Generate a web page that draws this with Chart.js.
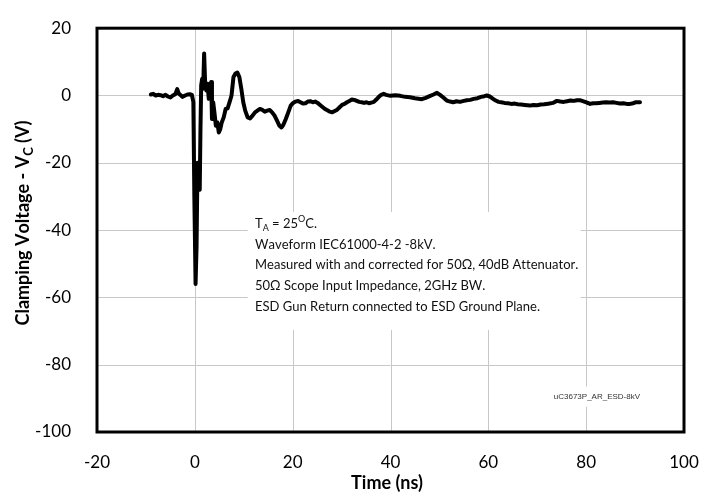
<!DOCTYPE html>
<html>
<head>
<meta charset="utf-8">
<script src="https://cdn.jsdelivr.net/npm/chart.js@4.4.1/dist/chart.umd.min.js"></script>
<style>
  html, body { margin: 0; padding: 0; background: #fff; }
  #wrap { width: 717px; height: 496px; }
</style>
</head>
<body>
<div id="wrap"><canvas id="esdChart" width="717" height="496"></canvas></div>
<script>
// Waveform (time in ns, voltage in V)
const timeNs = [
  -9, -8.5, -8, -7.5, -7, -6.5, -6, -5.5, -5, -4.5, -4, -3.6, -3.3, -3, -2.5, -2, -1.5, -1, -0.6, -0.3,
  -0.1, 0.15, 0.35, 0.55, 0.75, 1.0, 1.15, 1.3, 1.5, 1.7, 1.9, 2.1, 2.35, 2.6, 2.85, 3.1, 3.35, 3.5, 3.75, 4.0,
  4.3, 4.6, 4.9, 5.2, 5.5, 5.9, 6.3, 6.7, 7.1, 7.5, 7.9, 8.3, 8.7, 9.1, 9.5, 9.9, 10.3, 10.8, 11.3, 11.8,
  12.3, 12.8, 13.3, 13.8, 14.3, 14.8, 15.3, 15.8, 16.3, 16.8, 17.3, 17.7, 18.1, 18.6, 19.1, 19.6, 20.1, 20.6, 21.1, 21.6,
  22.1, 22.6, 23.1, 23.6, 24.1, 24.6, 25.1, 25.6, 26.1, 26.6, 27.1, 27.6, 28.1, 28.6, 29.1, 29.6, 30.1, 30.6, 31.1, 31.6,
  32.1, 32.6, 33.1, 33.6, 34.1, 34.6, 35.1, 35.6, 36.1, 36.6, 37.1, 37.6, 38.1, 38.6, 39.1, 40, 41, 42, 43, 44,
  45, 46.4, 47.2, 48, 48.8, 49.5, 50.2, 50.8, 51.5, 52.2, 52.8, 53.5, 54.2, 55, 55.6, 56.3, 57, 57.8, 58.5, 59.2,
  59.7, 60.3, 60.9, 61.5, 62.1, 62.6, 63.3, 64, 64.7, 65.4, 66, 66.7, 67.4, 68, 68.5, 69.2, 70, 70.7, 71.4, 71.9,
  72.5, 73.2, 74, 74.7, 75.4, 76.1, 76.8, 77.5, 78.1, 78.7, 79.3, 79.9, 80.5, 80.8, 81.4, 82, 82.7, 83.4, 84.1, 84.8,
  85.5, 86.2, 86.9, 87.6, 88.3, 89, 89.6, 90.2, 91
];
const clampV = [
  0.3, 0.5, 0.0, 0.2, 0.1, -0.2, 0.2, -0.3, -0.6, 0.0, 0.4, 1.9, 0.6, 0.2, -0.4, 0.0, 0.3, 0.4, 0.2, -2,
  -30, -56, -45, -20, -22, -28, -10, 3, 5, 2, 12.5, 4, 1.5, 3.5, -1, 3, 4, -7, -2, -5,
  -9, -8, -11, -10, -8, -6.5, -4, -3.8, -2, 0, 5.5, 6.5, 6.8, 5.5, 2, -2, -4.5, -6.5, -6.8, -6,
  -5, -4.5, -4, -4.3, -4.8, -4.5, -4.3, -5, -6, -7.5, -9, -9.5, -8.7, -7, -5, -3, -2.2, -1.8, -1.6, -2,
  -2.4, -2.3, -1.8, -1.7, -2, -1.8, -2.2, -2.8, -3.4, -4, -4.4, -4.8, -5, -4.6, -4.2, -3.5, -2.8, -2.5, -2, -1.6,
  -1.2, -1.3, -1.6, -1.9, -2, -2.2, -2, -2.3, -2.1, -1.9, -1.2, -0.4, 0.2, 0.5, 0.2, -0.1, 0.1, -0.1, -0.4, -0.5,
  -0.8, -1.1, -0.7, -0.2, 0.3, 0.8, 0.1, -0.6, -1.5, -1.8, -2, -1.7, -1.9, -1.6, -1.4, -1.3, -1.0, -0.8, -0.4, -0.2,
  0.0, -0.3, -0.9, -1.5, -1.9, -2.0, -2.2, -2.3, -2.5, -2.4, -2.6, -2.7, -2.8, -2.9, -3.0, -2.8, -2.9, -2.7, -2.6, -2.5,
  -2.4, -2.2, -1.6, -1.8, -1.9, -1.7, -1.5, -1.6, -1.4, -1.4, -1.7, -2.0, -2.3, -2.5, -2.3, -2.3, -2.2, -2.1, -2.0, -2.1,
  -2.0, -2.2, -2.4, -2.3, -2.5, -2.5, -2.3, -2.0, -2.0
];
const xTicks = [-20, 0, 20, 40, 60, 80, 100];
const yTicks = [-100, -80, -60, -40, -20, 0, 20];
const noteLines = [
  'T_A = 25^OC.',
  'Waveform IEC61000-4-2 -8kV.',
  'Measured with and corrected for 50\u03A9, 40dB Attenuator.',
  '50\u03A9 Scope Input Impedance, 2GHz BW.',
  'ESD Gun Return connected to ESD Ground Plane.'
];
const figureId = 'uC3673P_AR_ESD-8kV';

const FONT = 'Lato, "Open Sans", sans-serif';

// draws "T_A" / "25^O" style text: _x subscript, ^x superscript (one char)
function drawRich(ctx, text, x, y, size, weight) {
  let cx = x;
  for (let i = 0; i < text.length; i++) {
    const ch = text[i];
    if ((ch === '_' || ch === '^') && i + 1 < text.length) {
      const sm = text[++i];
      ctx.font = `${weight} ${Math.round(size * 0.7)}px ${FONT}`;
      ctx.fillText(sm, cx, y + (ch === '_' ? size * 0.3 : -size * 0.35));
      cx += ctx.measureText(sm).width;
    } else {
      ctx.font = `${weight} ${size}px ${FONT}`;
      ctx.fillText(ch, cx, y);
      cx += ctx.measureText(ch).width;
    }
  }
  return cx - x;
}

function richWidth(ctx, text, size, weight) {
  let w = 0;
  for (let i = 0; i < text.length; i++) {
    const ch = text[i];
    if ((ch === '_' || ch === '^') && i + 1 < text.length) {
      ctx.font = `${weight} ${Math.round(size * 0.7)}px ${FONT}`;
      w += ctx.measureText(text[++i]).width;
    } else {
      ctx.font = `${weight} ${size}px ${FONT}`;
      w += ctx.measureText(ch).width;
    }
  }
  return w;
}

const decorPlugin = {
  id: 'decor',
  beforeDatasetsDraw(chart) {
    const { ctx, chartArea: a, scales } = chart;
    const x = scales.x, y = scales.y;
    ctx.save();
    // gridlines from the scales' own ticks
    ctx.strokeStyle = '#c8c8c8';
    ctx.lineWidth = 1;
    ctx.beginPath();
    x.ticks.forEach(t => {
      const px = Math.round(x.getPixelForValue(t.value)) + 0.5;
      ctx.moveTo(px, a.top); ctx.lineTo(px, a.bottom);
    });
    y.ticks.forEach(t => {
      const py = Math.round(y.getPixelForValue(t.value)) + 0.5;
      ctx.moveTo(a.left, py); ctx.lineTo(a.right, py);
    });
    ctx.stroke();

    ctx.fillStyle = '#fff';
    // box behind the test conditions note
    ctx.fillRect(x.getPixelForValue(10.8), y.getPixelForValue(-34.6), 333, 118);
    // box behind the figure id
    ctx.fillRect(x.getPixelForValue(75), y.getPixelForValue(-86.5), 84, 20);
    ctx.restore();
  },
  afterDraw(chart) {
    const { ctx, chartArea: a, scales } = chart;
    const x = scales.x, y = scales.y;
    ctx.save();
    // frame
    ctx.strokeStyle = '#000';
    ctx.lineWidth = 3;
    ctx.strokeRect(a.left, a.top, a.right - a.left, a.bottom - a.top);

    // note text
    ctx.fillStyle = '#111';
    ctx.textBaseline = 'middle';
    ctx.textAlign = 'left';
    const nx = x.getPixelForValue(12.3);
    const ny = y.getPixelForValue(-38.1);
    noteLines.forEach((line, i) => drawRich(ctx, line, nx, ny + i * 20.8, 13, 'normal'));

    // figure id
    ctx.textAlign = 'center';
    ctx.fillStyle = '#333';
    ctx.font = '8px "Liberation Sans", Arial, sans-serif';
    ctx.fillText(figureId, x.getPixelForValue(82.2), y.getPixelForValue(-89.4));

    // axis titles
    ctx.fillStyle = '#000';
    ctx.textAlign = 'left';
    const xt = 'Time (ns)';
    ctx.font = `bold 18px ${FONT}`;
    ctx.fillText(xt, 387 - ctx.measureText(xt).width / 2, 483);

    const yt = 'Clamping Voltage - V_C (V)';
    const w = richWidth(ctx, yt, 18, 'bold');
    ctx.translate(23, 223);
    ctx.rotate(-Math.PI / 2);
    drawRich(ctx, yt, -w / 2, 0, 18, 'bold');
    ctx.restore();
  }
};

const ctx = document.getElementById('esdChart').getContext('2d');
new Chart(ctx, {
  type: 'scatter',
  data: {
    datasets: [{
      data: timeNs.map((t, i) => ({ x: t, y: clampV[i] })),
      showLine: true,
      borderColor: '#000',
      borderWidth: 4,
      pointRadius: 0,
      tension: 0,
      borderJoinStyle: 'round',
      borderCapStyle: 'round'
    }]
  },
  options: {
    responsive: false,
    animation: false,
    layout: { padding: { left: 0, top: 15, right: 33, bottom: 0 } },
    plugins: { legend: { display: false }, tooltip: { enabled: false } },
    scales: {
      x: {
        type: 'linear',
        min: -20, max: 100,
        afterFit: s => { s.height = 64; },
        afterBuildTicks: s => { s.ticks = xTicks.map(v => ({ value: v })); },
        grid: { display: false },
        border: { display: false },
        ticks: { color: '#000', font: { family: FONT, size: 17 }, padding: 12, maxRotation: 0 }
      },
      y: {
        type: 'linear',
        min: -100, max: 20,
        afterFit: s => { s.width = 97; },
        afterBuildTicks: s => { s.ticks = yTicks.map(v => ({ value: v })); },
        grid: { display: false },
        border: { display: false },
        ticks: { color: '#000', font: { family: FONT, size: 17 }, padding: 18 }
      }
    }
  },
  plugins: [decorPlugin]
});
</script>
</body>
</html>
